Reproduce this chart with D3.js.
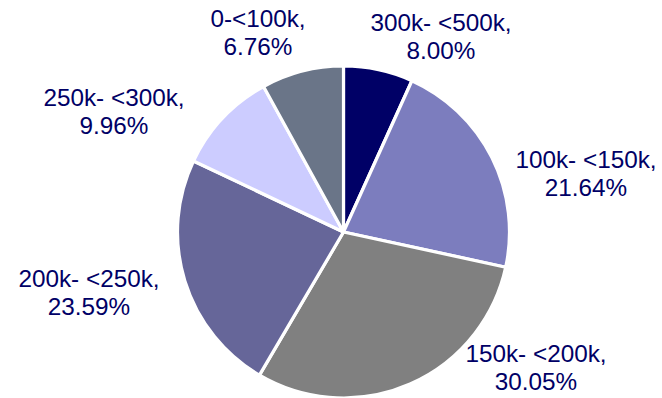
<!DOCTYPE html>
<html>
<head>
<meta charset="utf-8">
<script src="https://cdn.jsdelivr.net/npm/d3@7"></script>
<style>
  html, body { margin: 0; padding: 0; background: #ffffff; }
  svg { display: block; }
  text { font-family: "Liberation Sans", Arial, sans-serif; }
</style>
</head>
<body>
<svg id="chart" width="662" height="398"></svg>
<script>
// Household income bands and their share of the total (%)
const categories = ["0-<100k", "100k- <150k", "150k- <200k", "200k- <250k", "250k- <300k", "300k- <500k"];
const shares = [6.76, 21.64, 30.05, 23.59, 9.96, 8.00];
const sliceColors = ["#000066", "#7c7dbe", "#808080", "#666699", "#ccccff", "#6a7588"];

// Label placement: centre x and first-line baseline y for each band
const labelPos = [
  [258, 27], [586, 168], [536, 362], [89, 287], [114, 106], [441, 31]
];

const width = 662, height = 398;
const cx = 343.5, cy = 232, radius = 166;

const svg = d3.select("#chart");

const pie = d3.pie().sort(null).value(d => d.value);
const arc = d3.arc().innerRadius(0).outerRadius(radius);

const data = categories.map((c, i) => ({ name: c, value: shares[i], color: sliceColors[i] }));

const g = svg.append("g").attr("transform", `translate(${cx},${cy})`);

g.selectAll("path")
  .data(pie(data))
  .join("path")
  .attr("d", arc)
  .attr("fill", d => d.data.color)
  .attr("stroke", "#ffffff")
  .attr("stroke-width", 3.2)
  .attr("stroke-linejoin", "round");

const labels = svg.append("g");
data.forEach((d, i) => {
  const [x, y] = labelPos[i];
  const t = labels.append("text")
    .attr("x", x)
    .attr("y", y)
    .attr("text-anchor", "middle")
    .attr("fill", "#000066")
    .attr("font-size", 24.3);
  t.append("tspan").attr("x", x).text(d.name + ",");
  t.append("tspan").attr("x", x).attr("dy", 28).text(d.value.toFixed(2) + "%");
});
</script>
</body>
</html>
